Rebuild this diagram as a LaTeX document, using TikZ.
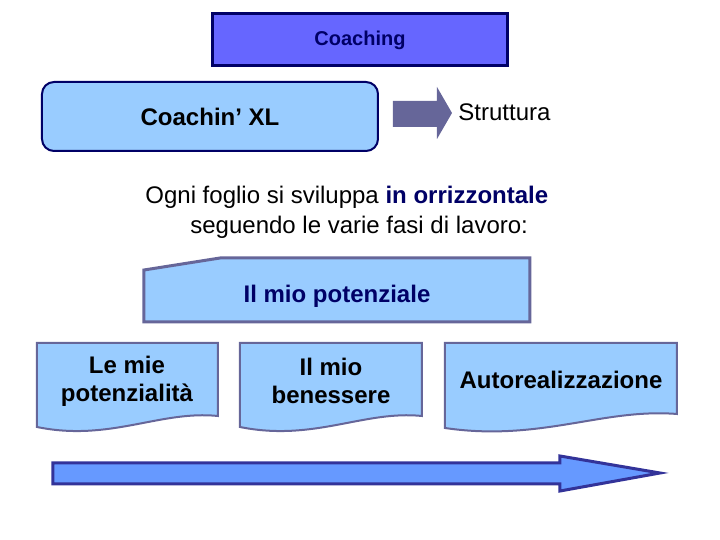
\documentclass[tikz,border=0pt]{standalone}
\usepackage{fontspec}
\setmainfont{Liberation Sans}
\usepackage{xcolor}
\usetikzlibrary{positioning}
\definecolor{navy}{HTML}{000066}
\definecolor{skyfill}{HTML}{99CCFF}
\definecolor{violetfill}{HTML}{6666FF}
\definecolor{slateline}{HTML}{666699}
\definecolor{arrowfill}{HTML}{6699FF}
\definecolor{arrowline}{HTML}{333399}

\begin{document}
\begin{tikzpicture}[
    x=0.5pt,y=-0.5pt,
    title/.style={draw=navy,line width=1.5pt,fill=violetfill,minimum width=147.5pt,minimum height=26pt,
                  text=navy,font=\bfseries\fontsize{10}{12}\selectfont},
    roundbox/.style={draw=navy,line width=1pt,fill=skyfill,rounded corners=6pt,
                     minimum width=168pt,minimum height=34.5pt,font=\bfseries\fontsize{12}{14}\selectfont},
    sheet/.style={draw=slateline,line width=1pt,fill=skyfill},
    label/.style={font=\bfseries\fontsize{12}{14}\selectfont,align=center,inner sep=0pt},
    plain/.style={font=\fontsize{12}{14}\selectfont,inner sep=0pt,anchor=west}
]
\useasboundingbox (0,0) rectangle (720,540);

% top boxes
\node[title] (coaching) at (360,40) {Coaching};
\node[roundbox] (xl) at (210,116.5) {Coachin' XL};
\fill[slateline] (393,101) -- (437,101) -- (437,87) -- (452,113) -- (437,139) -- (437,127) -- (393,127) -- cycle;
\node[plain] (struttura) at (458,112) {Struttura};

% description
\node[plain] (line1) at (145,197) {Ogni foglio si sviluppa \textcolor{navy}{\bfseries in orrizzontale}};
\node[plain] (line2) at (190,227) {seguendo le varie fasi di lavoro:};

% sheets
\draw[sheet,line width=1.5pt] (144,270) -- (220,258) -- (530,258) -- (530,322) -- (144,322) -- cycle;
\node[label,text=navy] (potenziale) at (337,296) {Il mio potenziale};

\draw[sheet] (37,343) -- (218,343) -- (218,416) .. controls (160,410) and (110,442) .. (37,427) -- cycle;
\draw[sheet] (240,343) -- (422,343) -- (422,416) .. controls (364,410) and (314,442) .. (240,427) -- cycle;
\draw[sheet] (445,343) -- (677,343) -- (677,414) .. controls (603,408) and (540,442) .. (445,428) -- cycle;
\node[label] (potenzialita) at (127,381) {Le mie\\potenzialità};
\node[label] (benessere) at (331,381) {Il mio\\benessere};
\node[label] (autoreal) at (561,380) {Autorealizzazione};

% timeline arrow
\draw[draw=arrowline,fill=arrowfill,line width=1.5pt] (53,463) -- (560,463) -- (560,456) -- (660,473) -- (560,491) -- (560,484) -- (53,484) -- cycle;
\end{tikzpicture}
\end{document}
